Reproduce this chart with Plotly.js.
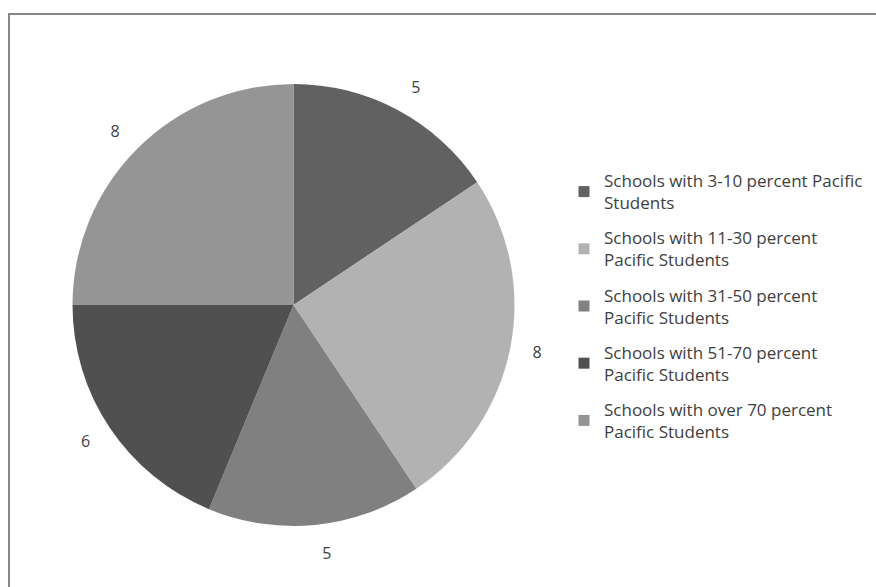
<!DOCTYPE html>
<html>
<head>
<meta charset="utf-8">
<script src="https://cdn.plot.ly/plotly-3.0.1.min.js"></script>
<style>
  html, body { margin: 0; padding: 0; background: #fff; }
  #chart { width: 876px; height: 587px; }
</style>
</head>
<body>
<div id="chart"></div>
<script>
const categories = [
  "Schools with 3-10 percent Pacific<br>Students",
  "Schools with 11-30 percent<br>Pacific Students",
  "Schools with 31-50 percent<br>Pacific Students",
  "Schools with 51-70 percent<br>Pacific Students",
  "Schools with over 70 percent<br>Pacific Students"
];
const values = [5, 8, 5, 6, 8];
const colors = ["#616161", "#b2b2b2", "#808080", "#505050", "#959595"];

const W = 876, H = 587;
const cx = 293.5, cy = 305, r = 221, rLab = 238;

function dom(rad) {
  return {
    x: [(cx - rad) / W, (cx + rad) / W],
    y: [(H - cy - rad) / H, (H - cy + rad) / H]
  };
}

// Transparent pie carrying the value labels a little further out
const labelPie = {
  type: "pie",
  labels: categories,
  values: values,
  sort: false,
  direction: "clockwise",
  rotation: 0,
  marker: { colors: categories.map(() => "rgba(0,0,0,0)"), line: { width: 0 } },
  textposition: "outside",
  texttemplate: "%{value}",
  textfont: { family: "Open Sans, sans-serif", size: 16, color: "#404040" },
  showlegend: false,
  hoverinfo: "skip",
  domain: dom(rLab)
};

const mainPie = {
  type: "pie",
  labels: categories,
  values: values,
  sort: false,
  direction: "clockwise",
  rotation: 0,
  marker: { colors: colors, line: { width: 0 } },
  textposition: "none",
  showlegend: false,
  hoverinfo: "label+value",
  domain: dom(r)
};

// Legend entries (one per category, each in its own group so the gap can be set)
const legendTraces = categories.map((c, i) => ({
  type: "scatter",
  mode: "markers",
  x: [null], y: [null],
  name: c,
  legendgroup: "g" + i,
  marker: { symbol: "square", size: 11, color: colors[i] },
  showlegend: true,
  hoverinfo: "skip"
}));

const layout = {
  width: W,
  height: H,
  margin: { l: 0, r: 0, t: 0, b: 0 },
  paper_bgcolor: "#ffffff",
  plot_bgcolor: "rgba(0,0,0,0)",
  xaxis: { visible: false, domain: [0.99, 1] },
  yaxis: { visible: false, domain: [0.99, 1] },
  showlegend: true,
  legend: {
    x: 564 / W, xanchor: "left",
    y: 1 - 163 / H, yanchor: "top",
    font: { family: "Open Sans, sans-serif", size: 17, color: "#404040" },
    bgcolor: "rgba(0,0,0,0)",
    traceorder: "grouped",
    tracegroupgap: 10
  },
  shapes: [{
    type: "rect", xref: "paper", yref: "paper",
    x0: 9 / W, x1: 1.05, y0: -0.05, y1: 1 - 14 / H,
    line: { color: "#878787", width: 2 }, fillcolor: "rgba(0,0,0,0)"
  }]
};

Plotly.newPlot("chart", [labelPie, mainPie].concat(legendTraces), layout, { displayModeBar: false, staticPlot: true });
</script>
</body>
</html>
